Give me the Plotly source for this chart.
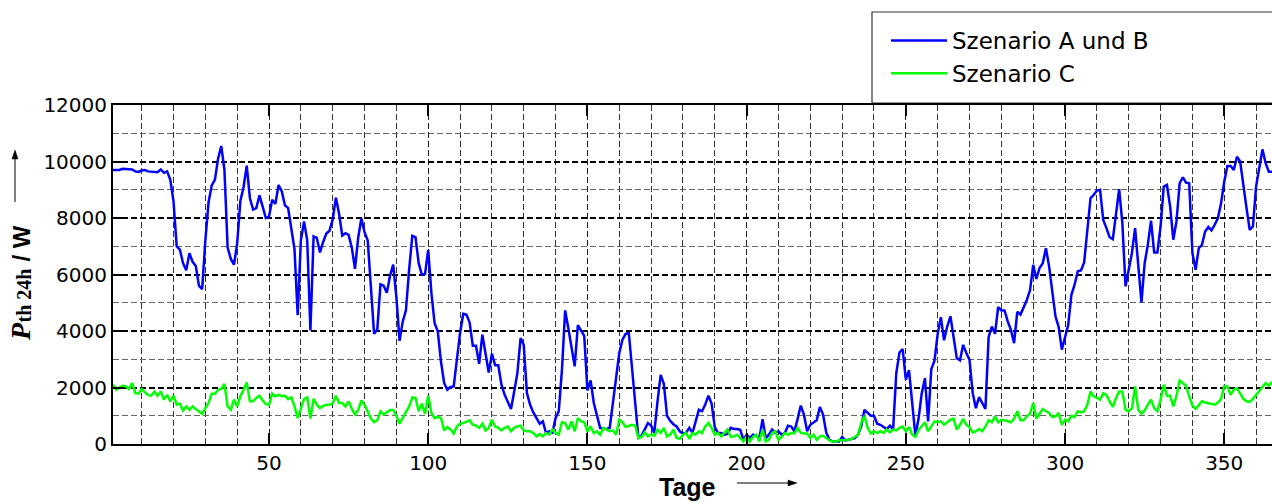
import math
import plotly.graph_objects as go

days = list(range(1, 366))

szenario_ab = [
    9700, 9700, 9700, 9740, 9730, 9740, 9720, 9650, 9630, 9680,
    9700, 9650, 9640, 9630, 9620, 9720, 9600, 9650, 9350, 8600,
    7000, 6880, 6400, 6150, 6750, 6450, 6300, 5600, 5480, 7200,
    8550, 9150, 9350, 10100, 10550, 9700, 6950, 6550, 6350, 7100,
    8600, 9100, 9850, 8700, 8300, 8350, 8800, 8400, 8000, 8050,
    8650, 8500, 9170, 8950, 8450, 8350, 7600, 6900, 4560, 7200,
    7880, 7200, 4020, 7350, 7300, 6780, 7150, 7450, 7550, 7950,
    8720, 8150, 7380, 7460, 7400, 6950, 6200, 7300, 7980, 7500,
    7200, 5500, 3900, 4050, 5650, 5600, 5350, 5950, 6350, 5200,
    3650, 4340, 4730, 6170, 7370, 7320, 6400, 5990, 6020, 6870,
    5340, 4280, 3990, 2920, 2160, 1920, 2020, 2040, 3100, 3930,
    4610, 4580, 4300, 3480, 3480, 2840, 3870, 3160, 2530, 3200,
    2790, 2790, 2100, 1740, 1510, 1240, 1860, 2510, 3750, 3510,
    1800, 1390, 1120, 920, 720, 800, 390, 450, 400, 920,
    1160, 2630, 4730, 4100, 3400, 2750, 4210, 4040, 3830, 1900,
    2250, 1450, 1040, 570, 540, 530, 570, 1390, 2390, 3220,
    3690, 3900, 3930, 2700, 1300, 230, 300, 500, 740, 650,
    390, 1500, 2450, 2130, 1000, 820, 700, 620, 450, 370,
    400, 570, 390, 800, 1210, 1160, 1400, 1710, 1430, 600,
    390, 390, 330, 360, 570, 530, 530, 500, 150, 330,
    210, 330, 300, 200, 880, 210, 330, 510, 390, 450,
    330, 390, 650, 620, 450, 880, 1360, 1040, 450, 680,
    770, 840, 1310, 1040, 410, 150, 90, 90, 90, 250,
    130, 150, 180, 210, 330, 620, 1210, 1100, 1000, 1000,
    720, 680, 620, 530, 650, 510, 2510, 3240, 3360, 2280,
    2610, 1570, 300, 900, 1800, 2330, 800, 2650, 2950, 3900,
    4490, 3670, 4160, 4520, 3810, 3040, 2960, 3510, 3220, 2980,
    1800, 1270, 1660, 1430, 1240, 3780, 4160, 3900, 4850, 4730,
    4730, 4340, 4040, 3570, 4680, 4580, 4810, 5100, 5440, 6340,
    5840, 6230, 6400, 6930, 6280, 5460, 4520, 4140, 3340, 3780,
    4220, 5280, 5640, 6110, 6140, 6430, 7460, 8700, 8820, 8970,
    9000, 7930, 7640, 7320, 7250, 8050, 9020, 7820, 5580, 6170,
    6760, 7640, 6280, 5010, 6400, 7050, 7910, 6780, 6780, 7700,
    9110, 9170, 8410, 7230, 7880, 9230, 9440, 9250, 9230, 6760,
    6170, 6930, 7050, 7520, 7680, 7560, 7760, 7990, 8520, 9290,
    9840, 9840, 9700, 10170, 10000, 9110, 8350, 7580, 7700, 9110,
    9820, 10430, 9940, 9640, 9640,
]

szenario_c = [
    2100, 1920, 2000, 2060, 2040, 1945, 2160, 1800, 1780, 1945,
    1830, 1730, 1710, 1860, 1710, 1860, 1570, 1740, 1510, 1710,
    1390, 1430, 1180, 1330, 1210, 1330, 1240, 1160, 1070, 1270,
    1450, 1780, 1780, 1920, 1950, 2130, 1330, 1210, 1570, 1330,
    1690, 1920, 2180, 1510, 1510, 1630, 1710, 1540, 1410, 1390,
    1780, 1690, 1740, 1690, 1710, 1590, 1650, 1330, 920, 1250,
    1600, 1650, 900, 1600, 1390, 1270, 1350, 1390, 1390, 1450,
    1710, 1450, 1450, 1330, 1510, 1250, 1040, 1210, 1540, 1390,
    1160, 900, 770, 840, 1160, 1040, 1120, 1200, 1200, 1000,
    720, 920, 1100, 1330, 1650, 1630, 1160, 1430, 1070, 1710,
    1100, 920, 950, 920, 480, 600, 510, 370, 620, 720,
    740, 800, 840, 680, 650, 570, 720, 480, 570, 860,
    620, 570, 480, 570, 620, 450, 570, 620, 650, 480,
    450, 450, 390, 270, 350, 270, 390, 330, 510, 390,
    330, 770, 740, 510, 800, 450, 920, 800, 770, 450,
    620, 390, 450, 330, 570, 510, 450, 480, 330, 860,
    770, 600, 650, 680, 650, 210, 250, 410, 270, 330,
    290, 510, 390, 570, 270, 330, 510, 210, 180, 330,
    390, 180, 390, 330, 450, 390, 620, 740, 570, 330,
    390, 270, 390, 510, 250, 270, 330, 200, 90, 270,
    90, 250, 330, 90, 510, 90, 150, 390, 450, 150,
    250, 390, 330, 390, 380, 570, 390, 370, 370, 210,
    330, 150, 270, 290, 210, 130, 90, 90, 130, 130,
    150, 150, 180, 250, 330, 750, 1000, 570, 370, 450,
    390, 450, 390, 510, 410, 510, 480, 570, 620, 450,
    600, 330, 250, 500, 650, 770, 450, 650, 800, 770,
    800, 680, 770, 860, 890, 510, 680, 890, 680, 600,
    410, 450, 530, 450, 620, 840, 770, 980, 770, 860,
    840, 800, 770, 900, 1160, 840, 840, 980, 1070, 1450,
    890, 1070, 1240, 1160, 1100, 950, 980, 1100, 680, 860,
    800, 1000, 950, 1160, 1120, 1160, 1390, 1860, 1690, 1630,
    1570, 1800, 1740, 1510, 1310, 1630, 1860, 1860, 1210, 1160,
    1270, 2040, 1210, 1070, 1190, 1390, 1570, 1270, 1160, 1570,
    2100, 1710, 1710, 1330, 1710, 2250, 2160, 2060, 1690, 1360,
    1240, 1360, 1510, 1470, 1450, 1430, 1390, 1470, 1600, 2050,
    2040, 1740, 1920, 1980, 1800, 1600, 1510, 1490, 1600, 1740,
    1860, 1980, 2160, 2060, 2200,
]

series_names = ["Szenario A und B", "Szenario C"]
x_title = "Tage"
y_title_parts = ["P", "th 24h", "/ W"]

W, H = 1272, 503
L, R, T, B = 113, 0, 105, 59
pw = W - L - R
ph = H - T - B


def px_x(p):
    return (p - L) / pw


def px_y(p):
    return (H - B - p) / ph


fig = go.Figure()
fig.add_trace(go.Scatter(x=days, y=szenario_ab, mode="lines", name=series_names[0],
                         line=dict(color="#0000FF", width=2.5)))
fig.add_trace(go.Scatter(x=days, y=szenario_c, mode="lines", name=series_names[1],
                         line=dict(color="#00FF00", width=2.5)))

axis_font = dict(family="DejaVu Sans", size=20, color="black")

fig.update_xaxes(
    range=[1, 365], tick0=0, dtick=50, ticks="inside", ticklen=11, tickwidth=1.5,
    tickcolor="black", showline=True, linecolor="black", linewidth=2, mirror="ticks",
    showgrid=True, gridcolor="#222222", gridwidth=1.3, griddash="6px,3px",
    minor=dict(tick0=0, dtick=10, showgrid=True, gridcolor="#333333", gridwidth=1.3,
               griddash="6px,3px", ticks=""),
    tickfont=axis_font, zeroline=False, ticklabelstandoff=0, tickformat="d",
    automargin=False,
)
fig.update_yaxes(
    range=[0, 12000], tick0=0, dtick=2000, ticks="inside", ticklen=11, tickwidth=1.5,
    tickcolor="black", showline=True, linecolor="black", linewidth=2, mirror=False,
    showgrid=True, gridcolor="black", gridwidth=1.8, griddash="6px,3px",
    minor=dict(tick0=0, dtick=1000, showgrid=True, gridcolor="#666666", gridwidth=1,
               griddash="6px,3px", ticks=""),
    tickfont=axis_font, zeroline=False, ticklabelstandoff=0, tickformat="d",
    automargin=False,
)

serif = "Liberation Serif, Times New Roman, serif"
sans = "Liberation Sans, Arial, sans-serif"


def rot_label(text, cx, cy, family, size):
    return dict(xref="paper", yref="paper", x=px_x(cx), y=px_y(cy), text=text,
                showarrow=False, textangle=-90, xanchor="center", yanchor="middle",
                font=dict(family=family, size=size, color="black"))


annotations = [
    dict(xref="paper", yref="paper", x=px_x(687), y=px_y(487), text="<b>" + x_title + "</b>",
         showarrow=False, xanchor="center", yanchor="middle",
         font=dict(family=sans, size=25, color="black")),
    rot_label("<b><i>" + y_title_parts[0] + "</i></b>", 20, 332, serif, 28),
    rot_label("<b>" + y_title_parts[1] + "</b>", 23.5, 296, serif, 20),
    rot_label("<b>" + y_title_parts[2] + "</b>", 20.5, 244, sans, 24),
]


def arrow_shapes(x0, y0, x1, y1, head=9, half=3):
    # line from tail (x0,y0) to tip (x1,y1), pixel coordinates of the page
    dx, dy = x1 - x0, y1 - y0
    n = math.hypot(dx, dy)
    ux, uy = dx / n, dy / n
    bx, by = x1 - ux * head, y1 - uy * head
    px_, py_ = -uy * half, ux * half
    pts = [(x1, y1), (bx + px_, by + py_), (bx - px_, by - py_)]
    path = "M " + " L ".join(f"{px_x(a):.5f},{px_y(b):.5f}" for a, b in pts) + " Z"
    return [
        dict(type="line", xref="paper", yref="paper", x0=px_x(x0), y0=px_y(y0),
             x1=px_x(bx), y1=px_y(by), line=dict(color="black", width=1)),
        dict(type="path", xref="paper", yref="paper", path=path,
             fillcolor="black", line=dict(color="black", width=0.5)),
    ]


shapes = [
    dict(type="rect", xref="paper", yref="paper", x0=px_x(872), x1=px_x(1290),
         y0=px_y(103), y1=px_y(12), line=dict(color="#333333", width=1.2),
         fillcolor="white", layer="below"),
]
shapes += arrow_shapes(737, 483, 797, 483)
shapes += arrow_shapes(15, 202, 15, 150)

fig.update_layout(
    width=W, height=H, margin=dict(l=L, r=R, t=T, b=B, pad=0, autoexpand=False),
    paper_bgcolor="white", plot_bgcolor="white",
    font=dict(family="DejaVu Sans", size=20, color="black"),
    showlegend=True,
    legend=dict(x=px_x(886), y=px_y(19), xanchor="left", yanchor="top",
                bgcolor="rgba(0,0,0,0)", borderwidth=0, itemwidth=56,
                font=dict(family="DejaVu Sans", size=23, color="black"),
                tracegroupgap=0),
    annotations=annotations, shapes=shapes,
)

fig.write_html("out.html")
